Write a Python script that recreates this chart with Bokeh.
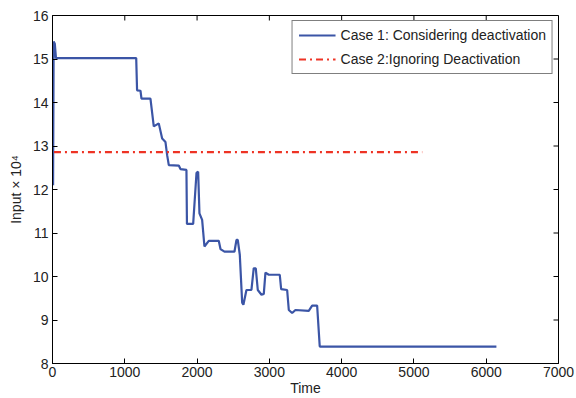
import math
from bokeh.plotting import figure
from bokeh.models import Range1d, FixedTicker, Legend, LegendItem
from bokeh.embed import file_html
from bokeh.resources import INLINE

# Case 1: considering deactivation (time, input x 1e4)
case1_t = [8, 16, 32, 48, 1158, 1170, 1217, 1231, 1355, 1401, 1470, 1517, 1563,
           1586, 1609, 1747, 1770, 1853, 1860, 1946, 1992, 2015, 2033, 2070,
           2102, 2162, 2300, 2324, 2379, 2517, 2545, 2563, 2591, 2624, 2641,
           2683, 2752, 2784, 2812, 2840, 2891, 2923, 2946, 2992, 3144, 3163,
           3246, 3269, 3315, 3361, 3545, 3592, 3661, 3697, 6141]
case1_v = [12.1, 15.4, 15.35, 15.02, 15.02, 14.28, 14.27, 14.09, 14.09, 13.45,
           13.52, 13.17, 13.09, 12.79, 12.56, 12.55, 12.47, 12.45, 11.21, 11.21,
           12.38, 12.41, 11.45, 11.3, 10.69, 10.82, 10.82, 10.63, 10.57, 10.57,
           10.84, 10.84, 10.5, 9.4, 9.35, 9.69, 9.69, 10.19, 10.19, 9.69, 9.58,
           9.6, 10.09, 10.04, 10.04, 9.71, 9.69, 9.23, 9.16, 9.23, 9.21, 9.33,
           9.33, 8.39, 8.39]

# Case 2: ignoring deactivation
case2_t = [20, 5115]
case2_v = [12.86, 12.86]

x_ticks = [0, 1000, 2000, 3000, 4000, 5000, 6000, 7000]
y_ticks = [8, 9, 10, 11, 12, 13, 14, 15, 16]
x_min, x_max = 0, 7000
y_min, y_max = 8, 16

FONT = "Liberation Sans"
TXT = "#222222"

p = figure(width=576, height=398, output_backend="svg", toolbar_location=None,
           x_range=Range1d(x_min, x_max), y_range=Range1d(y_min, y_max),
           min_border_left=52, min_border_right=18, min_border_top=15,
           min_border_bottom=34, x_axis_label="Time",
           y_axis_label="Input × 10⁴")
p.grid.visible = False
p.background_fill_color = "white"
p.border_fill_color = "white"
p.outline_line_color = "black"
p.outline_line_width = 1

for ax, ticks in ((p.xaxis[0], x_ticks), (p.yaxis[0], y_ticks)):
    ax.ticker = FixedTicker(ticks=ticks)
    ax.major_tick_in = 5
    ax.major_tick_out = 0
    ax.minor_tick_line_color = None
    ax.axis_line_color = "black"
    ax.major_label_text_font = FONT
    ax.major_label_text_font_size = "14px"
    ax.major_label_text_color = TXT
    ax.axis_label_text_font = FONT
    ax.axis_label_text_font_size = "14px"
    ax.axis_label_text_font_style = "normal"
    ax.axis_label_text_color = TXT
p.xaxis[0].major_label_standoff = 3
p.xaxis[0].axis_label_standoff = 0
p.yaxis[0].major_label_standoff = 4
p.yaxis[0].axis_label_standoff = 6

# inward ticks on the top and right edges of the box
p.ray(x=x_ticks, y=[y_max] * len(x_ticks), length=5, length_units="screen",
      angle=-math.pi / 2, line_color="black", line_width=1)
p.ray(x=[x_max] * len(y_ticks), y=y_ticks, length=5, length_units="screen",
      angle=math.pi, line_color="black", line_width=1)

r1 = p.line(case1_t, case1_v, line_color="#3b55a6", line_width=2.2)
r2 = p.line(case2_t, case2_v, line_color="#ee3324", line_width=2.2,
            line_dash="7 4 2 4")

legend = Legend(items=[LegendItem(label="Case 1: Considering deactivation", renderers=[r1]),
                       LegendItem(label="Case 2:Ignoring Deactivation", renderers=[r2])],
                location="top_right")
legend.label_text_font = FONT
legend.label_text_font_size = "14px"
legend.label_text_color = TXT
legend.border_line_color = "black"
legend.border_line_width = 1
legend.glyph_width = 37
legend.glyph_height = 16
legend.label_height = 16
legend.spacing = 8
legend.padding = 6
legend.margin = 5
legend.label_standoff = 5
p.add_layout(legend)

open("out.html", "w").write(file_html(p, INLINE))
